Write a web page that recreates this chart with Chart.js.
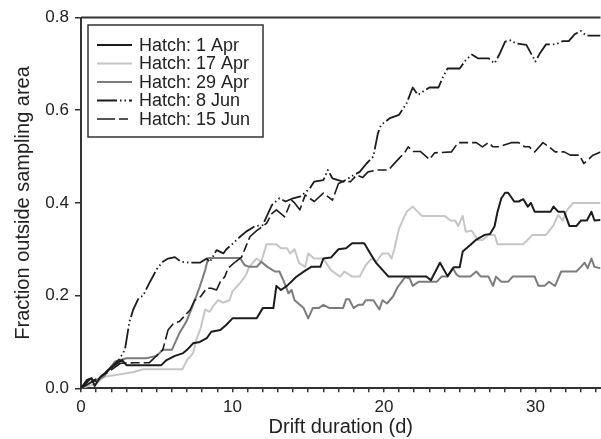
<!DOCTYPE html>
<html><head><meta charset="utf-8">
<script src="https://cdn.jsdelivr.net/npm/chart.js@4"></script>
<style>html,body{margin:0;padding:0;background:#fff}</style>
</head><body>
<canvas id="c" width="601" height="439"></canvas>
<script>
// ---- data ----
const seriesLabels = ['Hatch: 1 Apr', 'Hatch: 17 Apr', 'Hatch: 29 Apr', 'Hatch: 8 Jun', 'Hatch: 15 Jun'];
const xTickLabels = [0, 10, 20, 30];
const yTickLabels = [0.0, 0.2, 0.4, 0.6, 0.8];

const apr1Days = [0,0.4,0.7,0.9,1.3,2.1,2.7,3.0,3.7,4.5,5.3,5.65,6.2,6.75,7.0,7.4,7.85,8.3,8.6,9.2,9.6,10.0,10.9,11.6,12.0,12.7,12.9,13.2,13.6,14.2,14.8,15.2,15.8,16.0,16.5,17.0,17.5,17.9,18.7,19.1,19.5,20.3,22.8,23.1,23.7,24.2,24.6,25.0,25.2,25.7,26.1,26.65,27.0,27.3,27.5,27.75,28.0,28.2,28.6,28.9,29.2,29.5,29.7,29.95,31.0,31.2,31.5,31.9,32.25,32.7,33.0,33.4,33.7,33.9,34.3];
const apr1Frac = [0,0.018,0.022,0.005,0.025,0.047,0.061,0.05,0.05,0.05,0.05,0.061,0.07,0.076,0.083,0.097,0.1,0.108,0.122,0.126,0.137,0.151,0.151,0.151,0.173,0.173,0.221,0.212,0.221,0.24,0.254,0.262,0.262,0.28,0.282,0.3,0.302,0.313,0.313,0.291,0.27,0.241,0.241,0.233,0.271,0.242,0.261,0.261,0.295,0.309,0.321,0.331,0.333,0.349,0.381,0.41,0.422,0.422,0.403,0.403,0.408,0.392,0.4,0.381,0.381,0.392,0.381,0.381,0.35,0.35,0.362,0.362,0.381,0.362,0.363];

const apr17Days = [0,1.0,1.5,2.5,3.5,4.1,5.5,6.7,7.0,7.4,7.6,7.9,8.2,8.5,8.7,9.05,9.4,9.8,10.0,10.5,10.9,11.1,11.6,11.9,12.25,12.9,13.2,13.6,13.8,14.1,14.4,14.8,15.0,15.4,16.0,16.5,17.1,17.4,17.9,18.4,18.8,19.2,19.5,19.9,20.3,20.5,20.7,21.0,21.5,21.9,22.5,24.0,24.4,24.7,24.9,25.2,25.4,25.8,26.2,26.5,26.9,27.3,27.5,29.2,29.6,29.8,30.7,31.2,31.5,31.8,32.1,32.5,34.3];
const apr17Frac = [0,0.01,0.025,0.03,0.035,0.041,0.041,0.041,0.061,0.076,0.104,0.13,0.17,0.165,0.176,0.19,0.185,0.19,0.209,0.227,0.245,0.262,0.28,0.273,0.311,0.311,0.302,0.302,0.291,0.3,0.27,0.262,0.291,0.28,0.28,0.255,0.241,0.252,0.241,0.241,0.266,0.28,0.273,0.291,0.291,0.28,0.302,0.345,0.381,0.392,0.372,0.372,0.362,0.362,0.35,0.372,0.338,0.34,0.32,0.32,0.331,0.331,0.311,0.311,0.324,0.331,0.331,0.352,0.374,0.362,0.385,0.4,0.4];

const apr29Days = [0,0.8,1.5,2.25,3.0,4.3,5.0,5.4,6.0,6.5,7.0,7.4,7.85,8.2,8.4,10.5,10.8,11.1,11.6,11.9,12.3,12.8,13.1,13.35,13.7,13.9,14.1,14.7,15.0,15.3,15.7,16.0,16.4,17.3,17.5,17.7,18.0,18.3,18.6,18.8,19.3,19.7,19.9,20.2,20.6,20.9,21.4,21.7,21.9,22.3,23.5,23.8,24.2,24.55,24.8,25.0,25.7,26.1,26.4,26.9,27.2,27.4,27.75,28.2,28.5,29.95,30.2,30.6,30.9,31.1,31.3,31.7,32.7,33.0,33.25,33.45,33.7,33.9,34.3];
const apr29Frac = [0,0.015,0.025,0.058,0.065,0.065,0.07,0.083,0.083,0.119,0.147,0.18,0.22,0.255,0.281,0.281,0.266,0.262,0.262,0.273,0.262,0.252,0.252,0.234,0.205,0.212,0.19,0.173,0.151,0.173,0.173,0.18,0.173,0.173,0.192,0.192,0.173,0.18,0.18,0.19,0.19,0.17,0.19,0.183,0.198,0.218,0.24,0.237,0.221,0.23,0.23,0.241,0.241,0.259,0.245,0.241,0.241,0.252,0.241,0.241,0.221,0.241,0.23,0.23,0.241,0.241,0.221,0.221,0.23,0.225,0.221,0.252,0.252,0.262,0.271,0.259,0.28,0.262,0.259];

const jun8Days = [0,0.6,1.0,1.9,2.5,2.9,3.2,3.45,3.8,4.1,4.45,5.0,5.4,5.75,6.2,6.6,7.2,7.85,8.3,8.5,8.95,9.4,9.6,10.05,10.5,10.9,11.5,12.0,12.6,13.1,13.5,14.0,14.5,15.1,15.4,16.0,16.3,16.6,17.3,17.85,18.4,18.85,19.3,19.6,19.8,20.4,21.0,21.5,21.9,22.25,22.7,23.0,23.6,23.9,24.2,25.0,25.4,25.8,26.2,26.9,27.3,27.6,28.0,28.4,28.7,29.4,29.7,30.0,30.3,30.7,31.35,31.8,32.2,32.6,33.0,33.35,34.3];
const jun8Frac = [0,0.02,0.015,0.043,0.061,0.083,0.144,0.17,0.194,0.2,0.223,0.257,0.273,0.28,0.283,0.273,0.271,0.271,0.28,0.272,0.298,0.291,0.3,0.313,0.327,0.338,0.35,0.352,0.395,0.41,0.403,0.41,0.414,0.431,0.446,0.449,0.471,0.453,0.446,0.457,0.467,0.485,0.5,0.55,0.568,0.583,0.59,0.615,0.649,0.633,0.643,0.649,0.649,0.672,0.69,0.69,0.708,0.72,0.712,0.712,0.701,0.719,0.748,0.751,0.744,0.741,0.723,0.705,0.723,0.742,0.742,0.749,0.749,0.764,0.771,0.761,0.761];

const jun15Days = [0,0.5,1.0,1.8,2.6,3.5,4.5,5.4,5.75,6.1,6.5,7.0,7.2,7.5,7.9,8.3,8.6,8.95,9.2,9.5,9.7,10.2,10.6,11.15,11.6,12.25,12.6,12.9,13.45,13.9,14.1,14.45,14.8,15.4,16.0,16.6,17.0,17.3,17.8,18.2,18.6,18.95,19.6,20.3,20.6,21.0,21.4,21.6,21.9,22.4,23.0,23.35,24.45,24.9,26.1,26.5,26.9,27.2,27.6,28.4,28.9,29.3,29.6,29.95,30.5,30.9,31.3,31.9,32.3,32.9,33.2,33.5,33.8,34.3];
const jun15Frac = [0,0.01,0.02,0.035,0.054,0.055,0.055,0.083,0.126,0.14,0.144,0.162,0.169,0.19,0.198,0.216,0.216,0.212,0.23,0.241,0.259,0.273,0.283,0.327,0.34,0.356,0.377,0.385,0.37,0.406,0.4,0.385,0.417,0.403,0.421,0.406,0.442,0.446,0.446,0.46,0.455,0.467,0.471,0.471,0.482,0.496,0.51,0.521,0.511,0.511,0.494,0.508,0.51,0.53,0.53,0.521,0.53,0.521,0.521,0.53,0.53,0.521,0.521,0.51,0.53,0.521,0.51,0.51,0.503,0.503,0.485,0.494,0.503,0.51];

// ---- build datasets ----
const pts = (xs, ys) => xs.map((x, i) => ({x: x, y: ys[i]}));
const styles = [
  {color: '#1c1c1c', dash: [], width: 2},
  {color: '#c6c6c6', dash: [], width: 2},
  {color: '#7c7c7c', dash: [], width: 2},
  {color: '#1c1c1c', dash: [20, 3, 1.5, 3, 1.5, 3], width: 1.8},
  {color: '#1c1c1c', dash: [18, 4, 9, 4], width: 1.6}
];
const seriesData = [
  pts(apr1Days, apr1Frac), pts(apr17Days, apr17Frac), pts(apr29Days, apr29Frac),
  pts(jun8Days, jun8Frac), pts(jun15Days, jun15Frac)
];
const datasets = seriesData.map((d, i) => ({
  label: seriesLabels[i], data: d,
  borderColor: styles[i].color, borderDash: styles[i].dash, borderWidth: styles[i].width,
  pointRadius: 0, tension: 0, fill: false, borderJoinStyle: 'round'
}));
// draw order: gray lines under black ones
const order = [1, 2, 0, 4, 3];
order.forEach((idx, k) => { datasets[idx].order = 5 - k; });

const FONT = "'Liberation Sans', Arial, Helvetica, sans-serif";
const AXC = '#333333';

const framePlugin = {
  id: 'frameAndLegend',
  afterDraw(chart) {
    const ctx = chart.ctx, a = chart.chartArea;
    ctx.save();
    // top frame line
    ctx.strokeStyle = AXC; ctx.lineWidth = 2;
    ctx.beginPath(); ctx.moveTo(a.left, a.top); ctx.lineTo(a.right, a.top); ctx.stroke();
    // legend box
    const bx = 88, by = 25, bw = 175, bh = 112;
    ctx.fillStyle = '#fff'; ctx.fillRect(bx, by, bw, bh);
    ctx.strokeStyle = AXC; ctx.lineWidth = 1.5; ctx.setLineDash([]);
    ctx.strokeRect(bx, by, bw, bh);
    ctx.font = '18px ' + FONT; ctx.textBaseline = 'middle'; ctx.textAlign = 'left';
    chart.data.datasets.forEach((ds, i) => {
      const yy = 45 + i * 18.5;
      ctx.strokeStyle = ds.borderColor; ctx.lineWidth = ds.borderWidth;
      ctx.setLineDash(ds.borderDash || []);
      ctx.beginPath(); ctx.moveTo(97, yy); ctx.lineTo(132, yy); ctx.stroke();
      ctx.setLineDash([]);
      ctx.fillStyle = '#222'; ctx.fillText(ds.label, 139, yy + 1);
    });
    ctx.restore();
  }
};

new Chart(document.getElementById('c'), {
  type: 'line',
  data: { datasets: datasets },
  options: {
    responsive: false, animation: false, devicePixelRatio: 1,
    layout: { padding: { top: 17.5, right: 0, left: 0, bottom: 0 } },
    plugins: { legend: { display: false }, tooltip: { enabled: false } },
    scales: {
      x: {
        type: 'linear', min: 0, max: 34.3,
        afterFit: s => { s.height = 50.7; },
        border: { display: true, color: AXC, width: 2 },
        grid: { display: true, drawOnChartArea: false, drawTicks: true, tickLength: 4, color: AXC, lineWidth: 1.5 },
        ticks: {
          stepSize: 1, includeBounds: false, autoSkip: false, maxRotation: 0, padding: 5,
          color: '#222', font: { family: FONT, size: 17 },
          callback: v => (xTickLabels.includes(v) ? String(v) : '')
        },
        title: { display: true, text: 'Drift duration (d)', color: '#222', font: { family: FONT, size: 20 }, padding: { top: 0, bottom: 0 } }
      },
      y: {
        min: 0, max: 0.8,
        afterFit: s => { s.width = 81; },
        border: { display: true, color: AXC, width: 2 },
        grid: { display: true, drawOnChartArea: false, drawTicks: true, tickLength: 6, color: AXC, lineWidth: 1.5 },
        ticks: {
          stepSize: 0.2, padding: 6, color: '#222', font: { family: FONT, size: 17 },
          callback: v => { const m = yTickLabels.find(t => Math.abs(t - v) < 1e-6); return m === undefined ? '' : m.toFixed(1); }
        },
        title: { display: true, text: 'Fraction outside sampling area', color: '#222', font: { family: FONT, size: 20 }, padding: { top: 11, bottom: 0 } }
      }
    }
  },
  plugins: [framePlugin]
});
</script>
</body></html>
